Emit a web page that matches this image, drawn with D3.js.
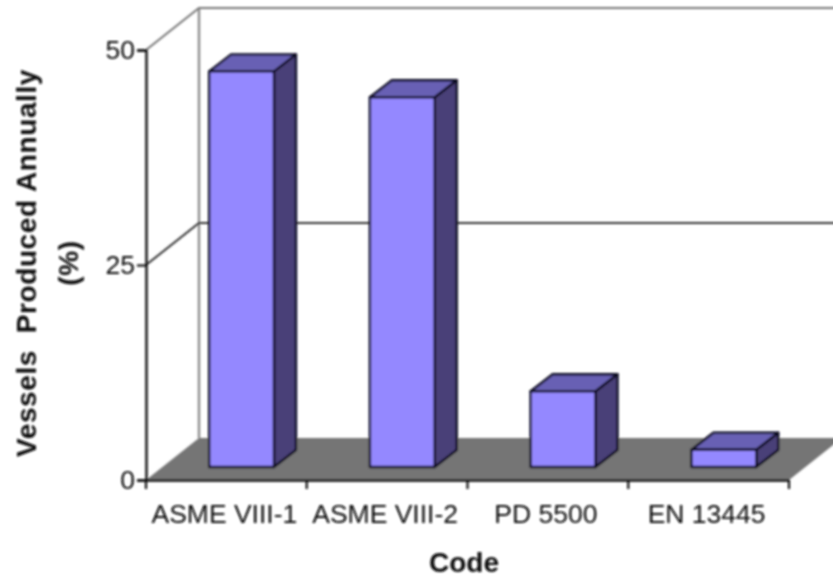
<!DOCTYPE html>
<html>
<head>
<meta charset="utf-8">
<script src="https://cdn.jsdelivr.net/npm/d3@7"></script>
<style>
  html, body { margin: 0; padding: 0; background: #fff; }
  svg { display: block; }
  text { font-family: "Liberation Sans", Arial, sans-serif; fill: #0c0c0c; }
</style>
</head>
<body>
<div id="chart"></div>
<script>
// Data
const codes = ["ASME VIII-1", "ASME VIII-2", "PD 5500", "EN 13445"];
const vessels = [46, 43, 8.8, 2];
const yTicks = [0, 25, 50];

const width = 833, height = 583;

// Front plane of the 3D box, and how far the back wall is pushed
const plot = {left: 146, right: 789, top: 50, bottom: 480};
const wall = {dx: 53, dy: -42};
const depth = {dx: 22, dy: -17};
const barLift = 13;   // bars stand a bit behind the front edge of the floor

const svg = d3.select("#chart")
  .append("svg")
    .attr("width", width)
    .attr("height", height);

// slight softening, the source is a scaled up raster
const defs = svg.append("defs");
defs.append("filter").attr("id", "soft")
  .attr("filterUnits", "userSpaceOnUse")
  .attr("x", 0).attr("y", 0).attr("width", width).attr("height", height)
  .append("feGaussianBlur").attr("stdDeviation", 0.8);

const g = svg.append("g").attr("filter", "url(#soft)");

const x = d3.scaleBand()
  .domain(codes)
  .range([plot.left, plot.right]);

const y = d3.scaleLinear()
  .domain([0, 50])
  .range([plot.bottom, plot.top]);

const barWidth = x.bandwidth() * 0.403;
const barOffset = x.bandwidth() * 0.393;

const poly = pts => pts.map(p => p.join(",")).join(" ");

// Floor
g.append("polygon")
  .attr("points", poly([
    [plot.left, y(0)],
    [plot.right, y(0)],
    [plot.right + wall.dx, y(0) + wall.dy],
    [plot.left + wall.dx, y(0) + wall.dy]
  ]))
  .attr("fill", "#757575");

// Back wall lines and gridlines
g.append("path")
  .attr("d", `M${plot.left + wall.dx},${y(0) + wall.dy}V${y(50) + wall.dy}`)
  .attr("fill", "none")
  .attr("stroke", "#8c8c8c")
  .attr("stroke-width", 2.4);

g.selectAll(".grid")
  .data(yTicks.filter(d => d > 0))
  .join("path")
    .attr("class", "grid")
    .attr("d", d => `M${plot.left},${y(d)}L${plot.left + wall.dx},${y(d) + wall.dy}H${width + 5}`)
    .attr("fill", "none")
    .attr("stroke", d => d === 50 ? "#777" : "#333")
    .attr("stroke-width", 2);

// Bars
const bars = g.selectAll(".bar")
  .data(codes.map((c, i) => ({code: c, value: vessels[i]})))
  .join("g")
    .attr("class", "bar")
    .attr("stroke", "#0a0820")
    .attr("stroke-width", 2.4)
    .attr("stroke-linejoin", "round");

const bx = d => x(d.code) + barOffset;
const base = y(0) - barLift;
const topY = d => y(d.value) - barLift;

bars.append("polygon")
  .attr("fill", "#4a4178")
  .attr("points", d => poly([
    [bx(d) + barWidth, topY(d)],
    [bx(d) + barWidth + depth.dx, topY(d) + depth.dy],
    [bx(d) + barWidth + depth.dx, base + depth.dy],
    [bx(d) + barWidth, base]
  ]));

bars.append("polygon")
  .attr("fill", "#6860b4")
  .attr("points", d => poly([
    [bx(d), topY(d)],
    [bx(d) + depth.dx, topY(d) + depth.dy],
    [bx(d) + barWidth + depth.dx, topY(d) + depth.dy],
    [bx(d) + barWidth, topY(d)]
  ]));

bars.append("rect")
  .attr("fill", "#9488ff")
  .attr("x", d => bx(d))
  .attr("y", d => topY(d))
  .attr("width", barWidth)
  .attr("height", d => base - topY(d));

// Y axis
const yAxis = g.append("g")
  .attr("transform", `translate(${plot.left},0)`)
  .call(d3.axisLeft(y).tickValues(yTicks).tickSize(9).tickPadding(2));

// X axis, ticks sit on the band edges so draw them from the band step
const xAxis = g.append("g")
  .attr("transform", `translate(0,${plot.bottom})`)
  .call(d3.axisBottom(x).tickSize(0).tickPadding(24));

xAxis.selectAll(".tick text").attr("dx", -2);

xAxis.selectAll(".edge")
  .data(d3.range(codes.length + 1))
  .join("line")
    .attr("class", "edge")
    .attr("x1", i => plot.left + i * x.step())
    .attr("x2", i => plot.left + i * x.step())
    .attr("y1", 0)
    .attr("y2", 9)
    .attr("stroke", "#111")
    .attr("stroke-width", 2.2);

[yAxis, xAxis].forEach(a => {
  a.selectAll(".domain").attr("stroke", "#111").attr("stroke-width", 2.4);
  a.selectAll(".tick line").attr("stroke", "#111").attr("stroke-width", 2.2);
  a.selectAll("text").style("font-size", "26.5px");
});

// Axis titles
g.append("text")
  .attr("x", 464)
  .attr("y", 572)
  .attr("text-anchor", "middle")
  .style("font-size", "28px")
  .style("font-weight", "bold")
  .text("Code");

const yTitle = g.append("text")
  .attr("transform", "translate(0,263) rotate(-90)")
  .attr("text-anchor", "middle")
  .style("font-size", "28px")
  .style("font-weight", "bold")
  .style("letter-spacing", "0.6px")
  .style("white-space", "pre");

yTitle.append("tspan").attr("x", 0).attr("y", 36).text("Vessels  Produced Annually");
yTitle.append("tspan").attr("x", 0).attr("y", 78).text("(%)");
</script>
</body>
</html>
